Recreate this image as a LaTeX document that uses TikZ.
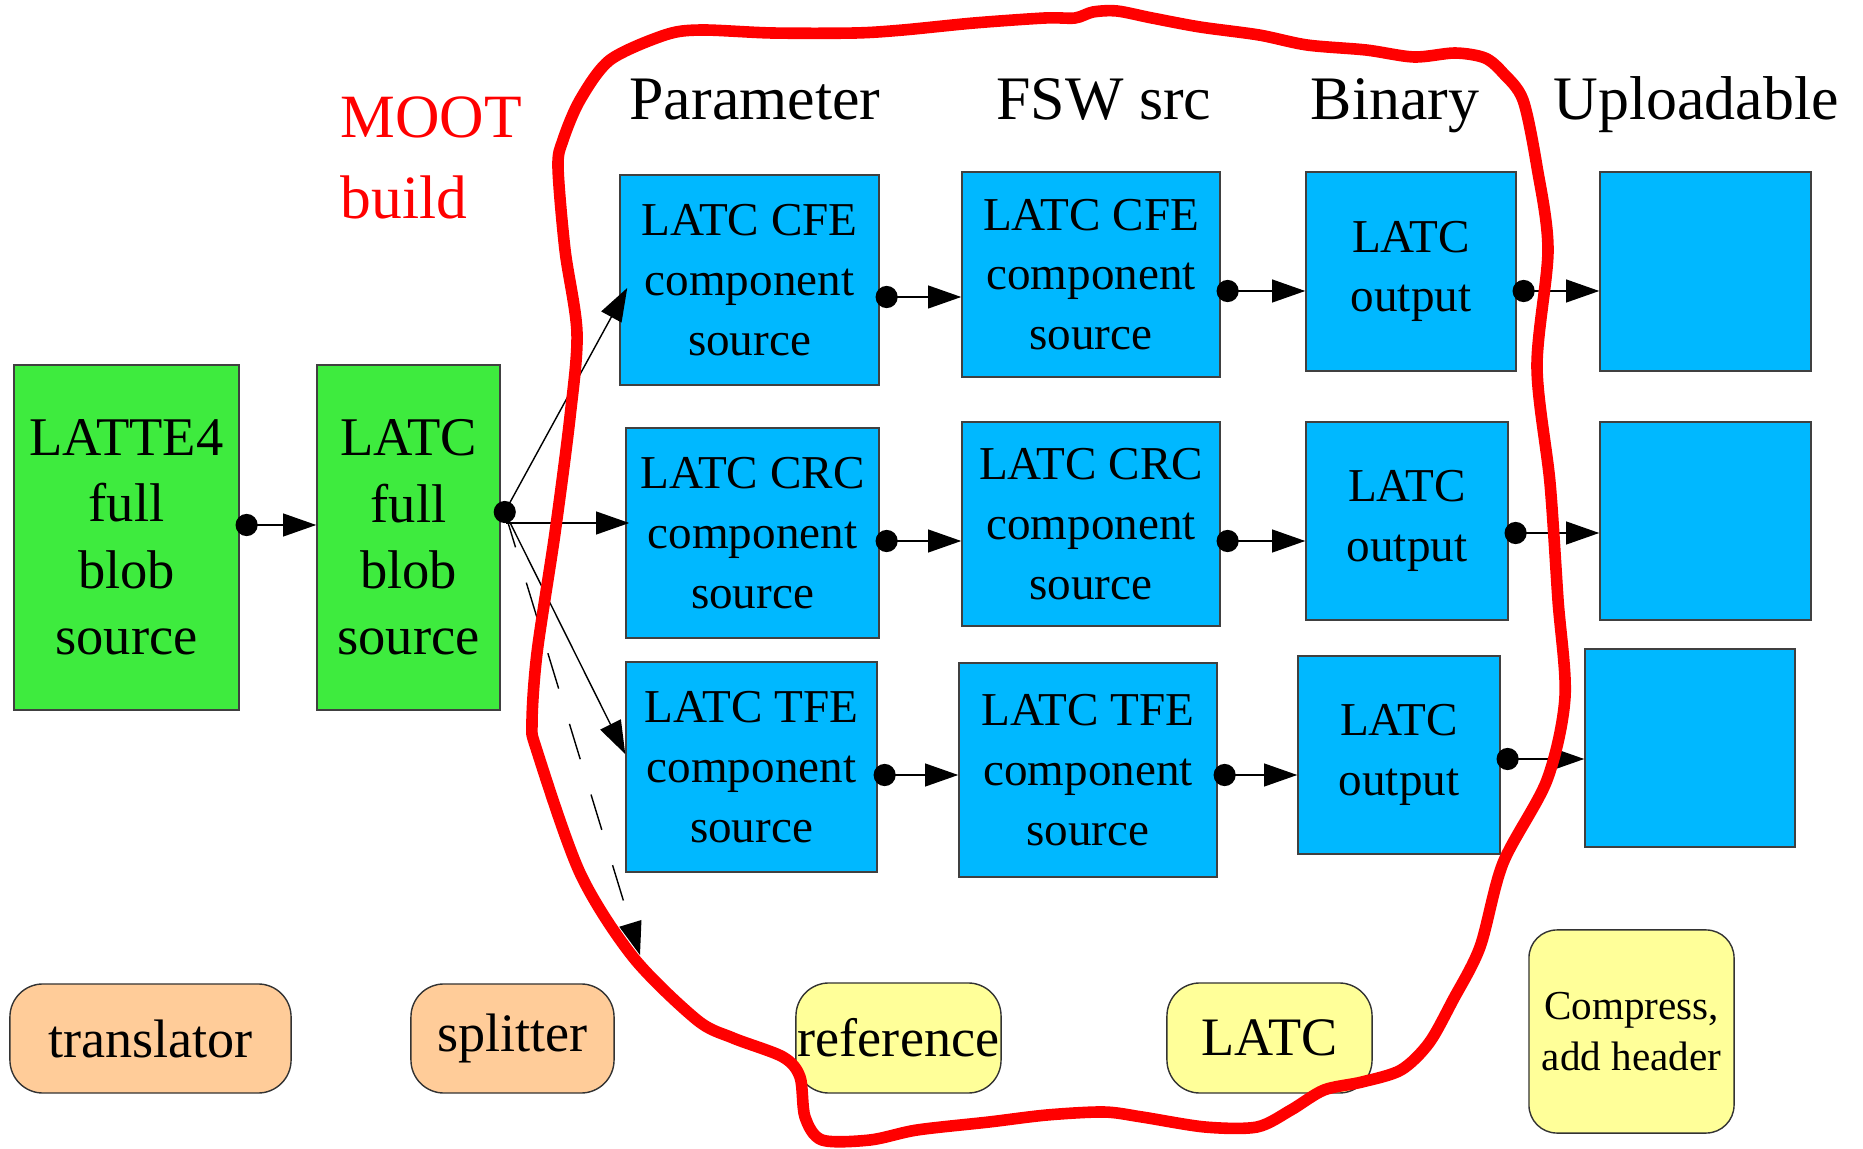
\documentclass[tikz,border=0pt]{standalone}
\usepackage{fontspec}
\setmainfont{Liberation Serif}
\usetikzlibrary{arrows.meta}

\definecolor{blobgreen}{RGB}{62,235,62}
\definecolor{compblue}{RGB}{0,184,255}
\definecolor{toolorange}{RGB}{255,204,153}
\definecolor{toolyellow}{RGB}{255,255,153}
\definecolor{mootred}{RGB}{255,0,0}

\begin{document}
\begin{tikzpicture}[x=0.01cm, y=-0.01cm,
  blobbox/.style={draw=black!75, fill=blobgreen, line width=0.4pt, inner sep=0pt,
                  align=center, font=\fontsize{15.5}{18.9}\selectfont},
  compbox/.style={draw=black!75, fill=compblue, line width=0.4pt, inner sep=0pt,
                  align=center, font=\fontsize{13.4}{17}\selectfont},
  toolbox/.style={draw=black!80, rounded corners=0.33cm, line width=0.4pt, inner sep=0pt,
                  align=center, font=\fontsize{15.4}{18}\selectfont},
  colhead/.style={anchor=base, font=\fontsize{17.6}{21}\selectfont},
  link/.style={line width=0.4pt, arrows={Circle[length=6.3pt]-Triangle[length=9.4pt, width=6.5pt]},
               shorten <=-1.2pt},
  feed/.style={line width=0.4pt, arrows={-Triangle[length=9.4pt, width=6.5pt]}}]
\useasboundingbox (0,0) rectangle (1863,1149);

% column titles
\node[colhead] (hpar) at (755,120) {Parameter};
\node[colhead] (hsrc) at (1104,120) {FSW src};
\node[colhead] (hbin) at (1395,120) {Binary};
\node[colhead] (hupl) at (1696,120) {Uploadable};
\node[mootred, anchor=north west, align=left, inner sep=0pt,
      font=\fontsize{17.5}{23}\selectfont] (moot) at (340,96) {MOOT\\build};

% blobs
\node[blobbox, minimum width=2.25cm, minimum height=3.45cm] (latte) at (126.5,537.5) {LATTE4\\full\\blob\\source};
\node[blobbox, minimum width=1.83cm, minimum height=3.45cm] (blob) at (408.5,537.5) {LATC\\full\\blob\\source};

% components
\node[compbox, minimum width=2.59cm, minimum height=2.10cm] (par1) at (749.5,280) {LATC CFE\\component\\source};
\node[compbox, minimum width=2.53cm, minimum height=2.10cm] (par2) at (752.5,533) {LATC CRC\\component\\source};
\node[compbox, minimum width=2.51cm, minimum height=2.10cm] (par3) at (751.5,767) {LATC TFE\\component\\source};
\node[compbox, minimum width=2.58cm, minimum height=2.05cm] (src1) at (1091,274.5) {LATC CFE\\component\\source};
\node[compbox, minimum width=2.58cm, minimum height=2.04cm] (src2) at (1091,524) {LATC CRC\\component\\source};
\node[compbox, minimum width=2.58cm, minimum height=2.14cm] (src3) at (1088,770) {LATC TFE\\component\\source};
\node[compbox, minimum width=2.10cm, minimum height=1.99cm] (bin1) at (1411,271.5) {LATC\\output};
\node[compbox, minimum width=2.02cm, minimum height=1.98cm] (bin2) at (1407,521) {LATC\\output};
\node[compbox, minimum width=2.02cm, minimum height=1.98cm] (bin3) at (1399,755) {LATC\\output};
\node[compbox, minimum width=2.11cm, minimum height=1.99cm] (upl1) at (1705.5,271.5) {};
\node[compbox, minimum width=2.11cm, minimum height=1.98cm] (upl2) at (1705.5,521) {};
\node[compbox, minimum width=2.10cm, minimum height=1.98cm] (upl3) at (1690,748) {};

% tools
\node[toolbox, fill=toolorange, minimum width=2.81cm, minimum height=1.09cm] (trans) at (150.5,1038.5) {translator};
\node[toolbox, fill=toolorange, minimum width=2.03cm, minimum height=1.09cm] (split) at (512.5,1038.5) {splitter};
\node[toolbox, fill=toolyellow, minimum width=2.05cm, minimum height=1.10cm] (refer) at (898.5,1038) {reference};
\node[toolbox, fill=toolyellow, minimum width=2.05cm, minimum height=1.10cm] (latc) at (1269.5,1038) {LATC};
\node[toolbox, fill=toolyellow, rounded corners=0.28cm, minimum width=2.05cm, minimum height=2.03cm,
      font=\fontsize{11.7}{14.5}\selectfont] (compr) at (1631.5,1031.5) {Compress,\\add header};

% flow
\draw[link] (latte.east |- 0,525) -- (blob.west |- 0,525);
\coordinate (fan) at ([shift={(4,-25.5)}]blob.east);
\coordinate (refend) at (640,955);
\fill (fan) circle (3.15pt);
\draw[feed] (fan) -- ([shift={(8,8)}]par1.west);
\draw[feed] ([shift={(1,11)}]fan) -- ([shift={(4,-10)}]par2.west);
\draw[feed] (fan) -- ([shift={(0,-13)}]par3.west);
\draw[feed, dash pattern=on 10.5pt off 10.5pt] (fan) -- (refend);

\draw[link] (par1.east |- 0,297) -- (src1.west |- 0,297);
\draw[link] (src1.east |- 0,291) -- (bin1.west |- 0,291);
\draw[link] (bin1.east |- 0,291) -- (upl1.west |- 0,291);
\draw[link] (par2.east |- 0,541) -- (src2.west |- 0,541);
\draw[link] (src2.east |- 0,541) -- (bin2.west |- 0,541);
\draw[link] (bin2.east |- 0,533) -- (upl2.west |- 0,533);
\draw[link] (par3.east |- 0,775) -- (src3.west |- 0,775);
\draw[link] (src3.east |- 0,775) -- (bin3.west |- 0,775);
\draw[link] (bin3.east |- 0,759) -- (upl3.west |- 0,759);

% MOOT boundary
\draw[mootred, line width=3.3pt, line join=round] plot[smooth cycle, tension=0.5] coordinates {
  (665,35) (701,30) (772,33) (855,33) (903,30) (974,23) (1045,18) (1075,18) (1093,12) (1117,11)
  (1152,18) (1200,27) (1259,35) (1307,45) (1366,50) (1414,57) (1455,53) (1485,58) (1503,73)
  (1523,100) (1537,167) (1548,250) (1537,367) (1550,483) (1558,600) (1565,697) (1547,780)
  (1503,863) (1480,947) (1453,1000) (1429,1043) (1401,1070) (1362,1082) (1324,1090) (1291,1110)
  (1257,1127) (1205,1127) (1142,1117) (1104,1112) (1047,1115) (989,1122) (917,1130) (870,1140)
  (822,1140) (805,1117) (800,1077) (783,1057) (733,1038) (697,1020) (633,957) (580,873)
  (537,751) (532,723) (537,653) (555,533) (570,417) (577,333) (565,250) (558,167) (563,140)
  (580,100) (610,60)};
\end{tikzpicture}
\end{document}
